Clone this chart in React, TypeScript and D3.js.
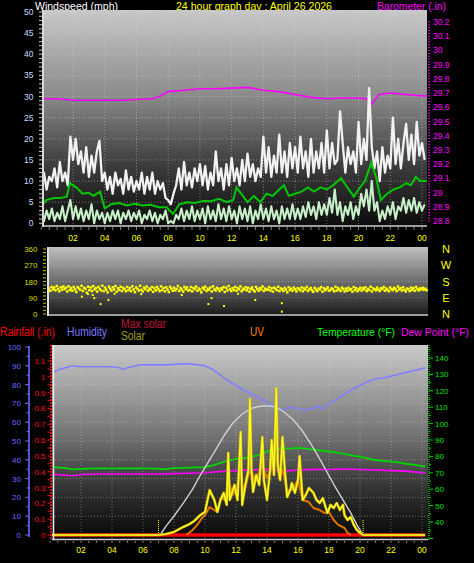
import React from 'react';
import * as d3 from 'd3';

const W = 474;
const H = 563;
const FONT = "'Liberation Sans', Arial, sans-serif";

// ---------- shared time axis ----------
const TICK_HOURS = [2, 4, 6, 8, 10, 12, 14, 16, 18, 20, 22, 24];
const TICK_LABELS = ['02', '04', '06', '08', '10', '12', '14', '16', '18', '20', '22', '00'];

// ---------- panel 1 : wind & barometer ----------
const WIND_TICKS = [0, 5, 10, 15, 20, 25, 30, 35, 40, 45, 50];
const BARO_TICKS = [28.8, 28.9, 29, 29.1, 29.2, 29.3, 29.4, 29.5, 29.6, 29.7, 29.8, 29.9, 30, 30.1, 30.2];

// gust (mph), 10-minute samples from 00:00 (one row per hour)
const GUST = [
  9, 12, 8, 11, 10, 13,
  8.5, 14.5, 10, 12, 9, 20.5,
  15, 20, 14, 17, 12, 18,
  11, 16, 12, 17, 19.5, 10,
  12, 8, 11, 7, 12, 9,
  10.5, 7, 12.5, 8, 11, 7.5,
  10, 8, 12, 7, 11, 8,
  12, 7, 10, 8, 9.5, 6,
  5.5, 4.5, 7, 9, 13, 8,
  14.5, 9, 12, 8.5, 13, 10,
  14, 9, 13.5, 8, 12, 9,
  17, 10, 13, 8, 14, 9,
  15.5, 10, 13, 9, 15, 10,
  16.5, 11, 14, 10, 13, 11,
  20.5, 12, 18, 11, 16, 12,
  21, 12, 17, 11, 19, 13,
  18, 12, 20.5, 13, 17, 11,
  20, 12, 17, 13, 19, 12,
  22, 13, 19, 14, 15, 26.5,
  19, 12, 18, 14, 17, 12,
  24, 14, 20, 15, 32, 18,
  13, 17, 10, 18, 12, 16,
  13, 25, 14, 20, 13, 19,
  23.5, 15, 21, 14, 24, 16,
  19, 15,
];
// wind speed (mph), 10-minute samples from 00:00
const WIND = [
  2, 0.5, 3, 1, 3.5, 0.5,
  2.5, 1, 4, 0.5, 3, 5.5,
  1, 4, 1, 3.5, 0.5, 3,
  1, 4.5, 0, 3, 1, 2.5,
  0, 2.5, 0.5, 3, 1, 3,
  0, 2.5, 1, 3, 0.5, 2.5,
  1, 3, 0, 2, 1, 3,
  0.5, 2.5, 0, 2, 1, 3,
  0, 0.5, 0, 2, 1, 3.5,
  0.5, 3, 1, 4, 0.5, 3,
  1, 3.5, 0, 4, 1, 3,
  0.5, 4.5, 1, 3.5, 0.5, 4,
  1, 3, 0, 4, 1, 3.5,
  0.5, 4, 0, 3, 1, 4.5,
  1, 3.5, 0.5, 4, 1, 3,
  0, 4, 1, 3.5, 1, 4.5,
  1, 3.5, 1, 4, 1.5, 5,
  2, 4, 1, 5, 2, 4.5,
  2, 6, 2.5, 8, 2, 5,
  0.5, 4, 2, 5, 1, 4,
  2, 7, 4, 8, 3, 10,
  3, 5, 0.5, 3, 1, 4,
  2, 5, 1, 4, 3, 6,
  2.5, 5.5, 3, 6, 2.5, 5,
  3, 4.5,
];
// average wind speed (mph)
const AVG_HOURS = [0, 0.3, 0.8, 1.2, 1.6, 1.8, 2.2, 2.6, 3.0, 3.3, 3.7, 4.0, 4.4, 4.9, 5.4, 5.9, 6.4, 6.9, 7.4, 7.9, 8.3, 8.7, 9.2, 9.7, 10.2, 10.7, 11.2, 11.7, 12.1, 12.3, 12.6, 13.0, 13.4, 13.8, 14.2, 14.6, 15.0, 15.3, 15.6, 16.0, 16.4, 16.8, 17.2, 17.6, 18.0, 18.4, 18.9, 19.2, 19.7, 20.0, 20.4, 20.8, 21.1, 21.4, 21.8, 22.2, 22.6, 23.0, 23.3, 23.6, 23.9, 24.3];
const AVG = [4, 5.5, 6, 6, 6.3, 9.5, 8.5, 7, 7.2, 6.5, 7.5, 3.5, 4.5, 4.8, 4.2, 4.6, 4.2, 4.4, 3.8, 3.8, 2.2, 4.5, 5, 4.8, 5.3, 5.2, 5.8, 5, 5.5, 8.5, 7, 5, 6.5, 5, 7, 6.5, 8, 9, 6.5, 7, 7.5, 8.5, 7.5, 8.5, 8, 9, 10.7, 9, 6.3, 8, 10, 14.3, 11, 5.5, 7, 8, 8.5, 9.5, 9, 11, 10, 10];
// barometer (inHg)
const BARO_HOURS = [0, 1, 2, 3, 4, 5, 6, 7, 7.5, 8, 9, 10, 11, 12, 13, 14, 15, 16, 17, 18, 19, 20, 20.5, 20.8, 21.3, 22, 23, 24, 24.3];
const BARO = [29.66, 29.66, 29.65, 29.65, 29.65, 29.65, 29.655, 29.66, 29.68, 29.71, 29.72, 29.73, 29.73, 29.735, 29.74, 29.72, 29.71, 29.69, 29.67, 29.66, 29.665, 29.665, 29.66, 29.62, 29.69, 29.7, 29.69, 29.68, 29.68];

// ---------- panel 2 : wind direction ----------
const DIR_TICKS = [0, 90, 180, 270, 360];
const COMPASS = ['N', 'E', 'S', 'W', 'N'];
// direction (deg), 5-minute samples from 00:00 (one row per hour)
const DIR = [
  142, 128, 150, 136, 147, 131, 155, 139, 126, 148, 135, 152,
  138, 146, 125, 153, 133, 144, 129, 150, 137, 122, 149, 141,
  134, 156, 128, 145, 139, 118, 151, 132, 147, 127, 154, 136,
  143, 124, 150, 138, 131, 157, 127, 146, 135, 120, 152, 140,
  129, 148, 136, 155, 124, 143, 133, 151, 128, 145, 138, 126,
  150, 132, 144, 127, 153, 136, 121, 147, 139, 130, 156, 134,
  125, 146, 137, 152, 129, 141, 134, 149, 123, 144, 131, 150,
  138, 127, 153, 133, 145, 126, 148, 136, 122, 151, 140, 129,
  146, 131, 139, 155, 128, 143, 135, 124, 150, 137, 147, 130,
  133, 149, 126, 144, 138, 152, 129, 141, 135, 120, 146, 137,
  151, 128, 140, 134, 147, 125, 153, 136, 130, 145, 139, 127,
  142, 135, 149, 122, 146, 131, 155, 138, 127, 143, 133, 150,
  129, 144, 137, 153, 126, 140, 135, 148, 131, 145, 124, 139,
  147, 133, 125, 150, 138, 129, 144, 136, 152, 128, 141, 134,
  136, 149, 130, 143, 124, 146, 139, 132, 151, 127, 142, 137,
  128, 145, 135, 120, 148, 133, 140, 129, 146, 137, 125, 143,
  139, 131, 147, 126, 142, 135, 150, 128, 138, 144, 132, 123,
  145, 134, 127, 141, 136, 149, 124, 143, 131, 138, 147, 129,
  133, 142, 137, 126, 150, 130, 144, 135, 128, 146, 139, 125,
  141, 129, 146, 134, 138, 124, 149, 132, 143, 127, 136, 145,
  130, 144, 136, 148, 127, 139, 133, 151, 125, 142, 137, 131,
  146, 135, 128, 143, 138, 150, 129, 141, 134, 126, 147, 137,
  132, 145, 139, 127, 152, 136, 143, 130, 148, 134, 125, 141,
  138, 127, 146, 133, 144, 129, 150, 137, 131, 142, 136, 145,
  134, 140, 132,
];
const DIR_OUT_HOURS = [2.1, 2.5, 2.8, 2.9, 3.3, 3.8, 4.2, 5.9, 8.5, 10.2, 10.4, 11.2, 13.2, 14.9, 14.9, 12.1];
const DIR_OUT = [96, 110, 105, 88, 55, 77, 112, 110, 105, 55, 88, 44, 77, 60, 13, 112];

// ---------- panel 3 ----------
const HUM_TICKS = [0, 10, 20, 30, 40, 50, 60, 70, 80, 90, 100];
const RAIN_TICKS = [0, 0.1, 0.2, 0.3, 0.4, 0.5, 0.6, 0.7, 0.8, 0.9, 1, 1.1];
const TEMP_TICKS = [40, 50, 60, 70, 80, 90, 100, 110, 120, 130, 140];

const HUM_HOURS = [0.2, 0.6, 1.0, 1.4, 2, 3, 4, 4.5, 4.7, 5.0, 5.3, 5.8, 6.5, 7.5, 8.5, 9, 9.5, 10, 10.5, 11, 11.5, 12, 12.5, 13, 13.5, 14, 14.5, 15, 15.3, 15.6, 16, 16.5, 17, 17.3, 17.6, 18, 18.5, 19, 19.5, 20, 20.5, 21, 21.5, 22, 22.5, 23, 23.5, 24, 24.2];
const HUM = [86.5, 88, 89, 90, 89.5, 89.5, 89.5, 89, 88, 89, 89.5, 90.5, 90.5, 90.5, 91, 91, 90.5, 90, 88, 85, 82, 79.5, 77, 75, 73, 70.5, 68, 66, 67.5, 68, 67, 66.5, 67.5, 68.5, 67, 70, 72, 75, 77.5, 79.5, 81.5, 83, 83.5, 84.5, 85.5, 86.5, 87.5, 88.5, 89];

const TEMP_HOURS = [0.2, 1, 1.5, 2, 3, 4, 5, 6, 7, 7.3, 7.7, 8, 9, 10, 10.5, 11, 11.5, 12, 12.5, 13, 13.5, 14, 14.5, 15, 15.5, 16, 16.5, 17, 17.5, 18, 18.5, 19, 19.5, 20, 20.5, 21, 21.5, 22, 22.5, 23, 23.5, 24, 24.2];
const TEMP = [73.4, 72.8, 72.1, 72.4, 72.7, 72.7, 72.7, 72.7, 72.6, 72.1, 72.5, 72.8, 73.1, 73.4, 74.5, 76, 77.5, 78.5, 79, 79.5, 81, 83, 84, 85, 84.8, 85.2, 84.8, 84.3, 83.5, 83, 82.3, 81.5, 80.5, 79.8, 78.8, 77.8, 77.3, 76.8, 76.3, 75.5, 74.8, 74.1, 74];

const DEW_HOURS = [0.2, 1, 1.5, 2, 3, 4, 5, 6, 7, 8, 9, 10, 11, 12, 13, 14, 14.5, 15, 15.5, 16, 17, 18, 19, 20, 21, 22, 23, 24, 24.2];
const DEW = [69.1, 68.5, 68.2, 69, 69.3, 69.3, 69.3, 69.3, 69.3, 69.5, 69.7, 70, 70.8, 71.3, 71.8, 72.1, 71.8, 70.8, 71.3, 71.7, 72.1, 72, 72.3, 72, 71.8, 71.3, 71, 70, 70];

const RAIN_HOURS = [0, 24.2];
const RAIN = [0, 0];

const SOLAR_HOURS = [0, 7.0, 7.5, 8.0, 8.6, 9.0, 9.3, 9.7, 10.0, 10.3, 10.6, 10.8, 11.0, 11.2, 11.4, 11.5, 11.6, 11.9, 12.1, 12.3, 12.4, 12.6, 12.8, 12.9, 13.0, 13.1, 13.3, 13.5, 13.7, 13.8, 14.0, 14.2, 14.3, 14.45, 14.6, 14.7, 14.85, 15.0, 15.15, 15.3, 15.5, 15.6, 15.8, 16.0, 16.1, 16.3, 16.5, 16.7, 17.0, 17.2, 17.4, 17.6, 17.9, 18.1, 18.3, 18.5, 18.7, 18.9, 19.0, 19.2, 19.4, 19.6, 19.8, 20.0, 20.2, 24.2];
const SOLAR = [0, 0, 6, 18, 47, 64, 82, 117, 135, 263, 205, 135, 205, 246, 176, 480, 205, 293, 205, 603, 176, 293, 380, 796, 380, 252, 351, 293, 573, 322, 205, 380, 556, 351, 860, 404, 322, 573, 380, 222, 263, 304, 246, 322, 462, 205, 234, 275, 246, 205, 187, 216, 129, 176, 158, 187, 146, 176, 117, 88, 105, 59, 29, 12, 0, 0];

const MAXSOLAR_HOURS = [7.1, 7.5, 8.0, 8.6, 9.2, 9.7, 10.3, 10.8, 11.3, 11.8, 12.4, 12.9, 13.3, 13.7, 14.2, 14.6, 15.1, 15.7, 16.2, 16.8, 17.3, 17.9, 18.4, 18.9, 19.4, 19.8, 20.2];
const MAXSOLAR = [0, 53, 111, 187, 269, 351, 439, 515, 591, 655, 708, 737, 749, 755, 755, 749, 720, 673, 620, 538, 462, 363, 281, 205, 129, 59, 0];

const UV_HOURS = [8.8, 9.2, 9.5, 9.8, 10.0, 10.3, 10.6, 10.8, 11.0, 11.3, 11.5, 11.8, 12.0, 12.3, 12.5, 12.8, 13.0, 13.2, 13.5, 13.7, 14.0, 14.3, 14.6, 14.8, 15.0, 15.3, 15.6, 16.0, 16.3, 16.7, 17.0, 17.4, 17.7, 18.0, 18.3, 18.6, 19.0, 19.2, 19.4];
const UV = [0, 0.29, 0.59, 0.99, 1.17, 1.64, 1.46, 1.35, 2.16, 2.05, 3.22, 2.34, 2.63, 3.8, 2.34, 3.51, 3.8, 3.22, 3.69, 4.1, 3.33, 3.92, 4.68, 3.33, 3.8, 2.63, 2.63, 3.22, 2.05, 1.93, 1.58, 1.46, 1.29, 1.35, 0.88, 0.59, 0.41, 0.12, 0];

const SUN_EVENTS = [7.0, 20.2];

// ---------- helpers ----------
const fmt = (v: number) => String(+v.toFixed(2));

function path(xs: number[], ys: number[], sx: (v: number) => number, sy: (v: number) => number) {
  return d3.line<number>().x((_, i) => sx(xs[i])).y((d) => sy(d))(ys) || '';
}

export default function App() {
  // panel 1 scales
  const P1 = { l: 43, r: 427, t: 10, b: 226 };
  const x1 = d3.scaleLinear().domain([0, 24]).range([41.3, 422]);
  const yWind = d3.scaleLinear().domain([0, 50]).range([223.3, 12]);
  const yBaro = d3.scaleLinear().domain([28.8, 30.2]).range([221, 22]);
  const gustHours = GUST.map((_, i) => i / 6);
  const windHours = WIND.map((_, i) => i / 6);

  // panel 2 scales
  const P2 = { l: 48, r: 428, t: 247, b: 316 };
  const x2 = d3.scaleLinear().domain([0, 24]).range([49, 424]);
  const yDir = d3.scaleLinear().domain([0, 360]).range([314, 249]);
  const dirHours = DIR.map((_, i) => i / 12);

  // panel 3 scales
  const P3 = { l: 52, r: 428, t: 345, b: 540 };
  const x3 = d3.scaleLinear().domain([0, 24]).range([50, 422]);
  const yHum = d3.scaleLinear().domain([0, 100]).range([535, 347]);
  const yRain = d3.scaleLinear().domain([0, 1.1]).range([535, 361]);
  const yTemp = d3.scaleLinear().domain([40, 140]).range([522, 358]);
  const ySolar = d3.scaleLinear().domain([0, 1100]).range([535, 347]);
  const yUV = d3.scaleLinear().domain([0, 11]).range([535, 347]);

  const windMinor = d3.range(0, 51, 1);
  const baroMinor = d3.range(28.8, 30.21, 0.02);
  const dirMinor = d3.range(0, 361, 20);
  const humMinor = d3.range(0, 101, 5);
  const rainMinor = d3.range(0, 1.15, 0.05);
  const tempMinor = d3.range(30, 146, 5);
  const halfHours = d3.range(0, 24.01, 0.5);

  const txt = { fontFamily: FONT } as const;

  return (
    <svg width={W} height={H} style={{ position: 'absolute', left: 0, top: 0, background: '#000' }}>
      <defs>
        <linearGradient id="g1" x1="0" y1="0" x2="0" y2="1">
          <stop offset="0" stopColor="#c8c8c8" />
          <stop offset="0.4" stopColor="#8a8a8a" />
          <stop offset="0.7" stopColor="#404040" />
          <stop offset="1" stopColor="#0c0c0c" />
        </linearGradient>
        <linearGradient id="g2" x1="0" y1="0" x2="0" y2="1">
          <stop offset="0" stopColor="#c0c0c0" />
          <stop offset="0.5" stopColor="#6c6c6c" />
          <stop offset="1" stopColor="#181818" />
        </linearGradient>
        <linearGradient id="g3" x1="0" y1="0" x2="0" y2="1">
          <stop offset="0" stopColor="#cacaca" />
          <stop offset="0.45" stopColor="#767676" />
          <stop offset="0.75" stopColor="#303030" />
          <stop offset="1" stopColor="#060606" />
        </linearGradient>
        <clipPath id="c1"><rect x={P1.l} y={P1.t} width={P1.r - P1.l} height={P1.b - P1.t} /></clipPath>
        <clipPath id="c2"><rect x={P2.l} y={P2.t} width={P2.r - P2.l} height={P2.b - P2.t} /></clipPath>
        <clipPath id="c3"><rect x={P3.l} y={P3.t} width={P3.r - P3.l} height={P3.b - P3.t} /></clipPath>
      </defs>
      <rect x={0} y={0} width={W} height={H} fill="#000" />

      {/* titles */}
      <text x={35} y={9.5} fill="#ffffff" fontSize={11} textLength={83} lengthAdjust="spacingAndGlyphs" style={txt}>Windspeed (mph)</text>
      <text x={176} y={9.5} fill="#ffff00" fontSize={11} textLength={156} lengthAdjust="spacingAndGlyphs" style={txt}>24 hour graph day : April 26 2026</text>
      <text x={377} y={9.5} fill="#ff00ff" fontSize={11} textLength={69} lengthAdjust="spacingAndGlyphs" style={txt}>Barometer (.in)</text>

      {/* ===== panel 1 ===== */}
      <rect x={P1.l} y={P1.t} width={P1.r - P1.l} height={P1.b - P1.t} fill="url(#g1)" />
      <g clipPath="url(#c1)" stroke="#d8d8d8" strokeOpacity={0.45} strokeDasharray="1 2">
        {WIND_TICKS.slice(1).map((v) => (
          <line key={'h' + v} x1={P1.l} x2={P1.r} y1={yWind(v)} y2={yWind(v)} />
        ))}
        {TICK_HOURS.map((h) => (
          <line key={'v' + h} x1={x1(h)} x2={x1(h)} y1={P1.t} y2={P1.b} />
        ))}
      </g>
      <g clipPath="url(#c1)" fill="none">
        <path d={path(BARO_HOURS, BARO, x1, yBaro)} stroke="#ff00ff" strokeWidth={1.6} />
        <path d={path(gustHours, GUST, x1, yWind)} stroke="#f2f2f2" strokeWidth={2.3} strokeLinejoin="round" />
        <path d={path(windHours, WIND, x1, yWind)} stroke="#c8f0c8" strokeWidth={2.1} strokeLinejoin="round" />
        <path d={path(AVG_HOURS, AVG, x1, yWind)} stroke="#00c800" strokeWidth={2} />
      </g>
      <line x1={P1.l} x2={P1.l} y1={P1.t} y2={P1.b + 1} stroke="#d8d8d8" strokeWidth={2} />
      <line x1={P1.l} x2={P1.r} y1={P1.b} y2={P1.b} stroke="#d0d0d0" strokeWidth={1.5} />
      {windMinor.map((v) => (
        <line key={'wm' + v} x1={39} x2={42} y1={yWind(v)} y2={yWind(v)} stroke="#c8c8c8" strokeWidth={1} />
      ))}
      {WIND_TICKS.map((v) => (
        <text key={'wl' + v} x={33.5} y={yWind(v) + 3} fill="#c8dcff" fontSize={8.5} textAnchor="end" style={txt}>{v}</text>
      ))}
      {baroMinor.map((v, i) => (
        <line key={'bm' + i} x1={428} x2={430} y1={yBaro(v)} y2={yBaro(v)} stroke="#ff00ff" strokeWidth={1} />
      ))}
      {BARO_TICKS.map((v) => (
        <text key={'bl' + v} x={433} y={yBaro(v) + 3} fill="#ff00ff" fontSize={8.5} style={txt}>{fmt(v)}</text>
      ))}
      {halfHours.map((h) => (
        <line key={'xt1' + h} x1={x1(h)} x2={x1(h)} y1={P1.b + 1} y2={P1.b + 4} stroke="#808080" strokeWidth={1} />
      ))}
      {TICK_HOURS.map((h, i) => (
        <text key={'xl1' + h} x={x1(h)} y={240.5} fill="#ffff00" fontSize={8.5} textAnchor="middle" style={txt}>{TICK_LABELS[i]}</text>
      ))}

      {/* ===== panel 2 ===== */}
      <rect x={P2.l} y={P2.t} width={P2.r - P2.l} height={P2.b - P2.t} fill="url(#g2)" />
      <g clipPath="url(#c2)" stroke="#d8d8d8" strokeOpacity={0.35} strokeDasharray="1 2">
        {DIR_TICKS.slice(1, 4).map((v) => (
          <line key={'dh' + v} x1={P2.l} x2={P2.r} y1={yDir(v)} y2={yDir(v)} />
        ))}
      </g>
      <g clipPath="url(#c2)" fill="#ffff00">
        {DIR.map((d, i) => (
          <rect key={'d' + i} x={x2(dirHours[i]) - 1.25} y={yDir(d) - 1.25} width={2.5} height={2.5} />
        ))}
        {DIR_OUT.map((d, i) => (
          <rect key={'do' + i} x={x2(DIR_OUT_HOURS[i]) - 1} y={yDir(d) - 1} width={2} height={2} />
        ))}
      </g>
      <line x1={P2.l} x2={P2.l} y1={P2.t} y2={P2.b} stroke="#e0e0e0" strokeWidth={2} />
      <line x1={P2.l} x2={P2.r} y1={P2.b - 1} y2={P2.b - 1} stroke="#c8c8c8" strokeWidth={1.5} />
      {dirMinor.map((v) => (
        <line key={'dm' + v} x1={43} x2={46} y1={yDir(v)} y2={yDir(v)} stroke="#c8c800" strokeWidth={1} />
      ))}
      {DIR_TICKS.map((v) => (
        <text key={'dl' + v} x={37.5} y={yDir(v) + 3} fill="#d8d800" fontSize={8} textAnchor="end" style={txt}>{v}</text>
      ))}
      {DIR_TICKS.map((v, i) => (
        <text key={'cp' + v} x={446} y={yDir(v) + 4} fill="#ffff00" fontSize={11} textAnchor="middle" style={txt}>{COMPASS[i]}</text>
      ))}

      {/* ===== legend ===== */}
      <text x={0} y={336} fill="#ff0000" fontSize={12.5} textLength={55} lengthAdjust="spacingAndGlyphs" style={txt}>Rainfall (.in)</text>
      <text x={67} y={336} fill="#7878ff" fontSize={12.5} textLength={40} lengthAdjust="spacingAndGlyphs" style={txt}>Humidity</text>
      <text x={121} y={327.5} fill="#c0103c" fontSize={12} textLength={45} lengthAdjust="spacingAndGlyphs" style={txt}>Max solar</text>
      <text x={121} y={340} fill="#a0a020" fontSize={12} textLength={24} lengthAdjust="spacingAndGlyphs" style={txt}>Solar</text>
      <text x={250} y={336} fill="#ff8000" fontSize={12.5} textLength={14} lengthAdjust="spacingAndGlyphs" style={txt}>UV</text>
      <text x={317} y={336} fill="#00ff00" fontSize={11} textLength={78} lengthAdjust="spacingAndGlyphs" style={txt}>Temperature (°F)</text>
      <text x={401} y={336} fill="#ff00ff" fontSize={11} textLength={68} lengthAdjust="spacingAndGlyphs" style={txt}>Dew Point (°F)</text>

      {/* ===== panel 3 ===== */}
      <rect x={P3.l} y={P3.t} width={P3.r - P3.l} height={P3.b - P3.t} fill="url(#g3)" />
      <g clipPath="url(#c3)" stroke="#d8d8d8" strokeOpacity={0.4} strokeDasharray="1 2">
        {HUM_TICKS.slice(1, 10).map((v) => (
          <line key={'hh' + v} x1={P3.l} x2={P3.r} y1={yHum(v)} y2={yHum(v)} />
        ))}
        {TICK_HOURS.map((h) => (
          <line key={'hv' + h} x1={x3(h)} x2={x3(h)} y1={P3.t} y2={P3.b} />
        ))}
      </g>
      <g clipPath="url(#c3)" fill="none">
        <path d={path(HUM_HOURS, HUM, x3, yHum)} stroke="#8080ff" strokeWidth={1.6} />
        <path d={path(TEMP_HOURS, TEMP, x3, yTemp)} stroke="#00d800" strokeWidth={1.8} />
        <path d={path(DEW_HOURS, DEW, x3, yTemp)} stroke="#ff00ff" strokeWidth={1.6} />
        <path d={path(MAXSOLAR_HOURS, MAXSOLAR, x3, ySolar)} stroke="#d0d0d0" strokeWidth={1.4} />
        {SUN_EVENTS.map((h) => (
          <line key={'sun' + h} x1={x3(h)} x2={x3(h)} y1={520} y2={535} stroke="#ffff00" strokeWidth={1} strokeDasharray="1 1" />
        ))}
        <path d={path(RAIN_HOURS, RAIN, x3, yRain)} stroke="#ff0000" strokeWidth={3.5} />
        <path d={path(UV_HOURS, UV, x3, yUV)} stroke="#e07000" strokeWidth={2} strokeLinejoin="round" />
        <path d={path(SOLAR_HOURS, SOLAR, x3, ySolar)} stroke="#d8c000" strokeWidth={2.6} strokeLinejoin="round" />
        <path d={path(SOLAR_HOURS, SOLAR, x3, ySolar)} stroke="#ffff30" strokeWidth={1.2} strokeLinejoin="round" />
      </g>
      <line x1={P3.l} x2={P3.r} y1={P3.b - 0.5} y2={P3.b - 0.5} stroke="#c8c8c8" strokeWidth={1.5} />
      <line x1={53.5} x2={53.5} y1={P3.t} y2={P3.b} stroke="#e8e8e8" strokeWidth={1.5} />
      {halfHours.map((h) => (
        <line key={'xt3' + h} x1={x3(h)} x2={x3(h)} y1={P3.b + 1} y2={P3.b + 3} stroke="#808080" strokeWidth={1} />
      ))}
      {/* humidity axis */}
      <line x1={29} x2={29} y1={346} y2={537} stroke="#7070ff" strokeWidth={1.5} />
      {humMinor.map((v) => (
        <line key={'hm' + v} x1={v % 10 === 0 ? 25 : 26.5} x2={29} y1={yHum(v)} y2={yHum(v)} stroke="#7070ff" strokeWidth={1} />
      ))}
      {HUM_TICKS.map((v) => (
        <text key={'hl' + v} x={21} y={yHum(v) + 3} fill="#6a6aff" fontSize={8} textAnchor="end" style={txt}>{v}</text>
      ))}
      {/* rainfall axis */}
      <line x1={51} x2={51} y1={P3.t} y2={P3.b} stroke="#ff2020" strokeWidth={1.5} strokeDasharray="2 1" />
      {rainMinor.map((v, i) => (
        <line key={'rm' + i} x1={47.5} x2={50} y1={yRain(v)} y2={yRain(v)} stroke="#ff0000" strokeWidth={1} />
      ))}
      {RAIN_TICKS.map((v) => (
        <text key={'rl' + v} x={45.5} y={yRain(v) + 3} fill="#ff1010" fontSize={8} textAnchor="end" style={txt}>{fmt(v)}</text>
      ))}
      {/* temperature axis */}
      <line x1={429} x2={429} y1={P3.t} y2={P3.b} stroke="#00c000" strokeWidth={1.5} strokeDasharray="1 1" />
      {tempMinor.map((v) => (
        <line key={'tm' + v} x1={429} x2={v % 10 === 0 ? 433 : 431} y1={yTemp(v)} y2={yTemp(v)} stroke="#00d000" strokeWidth={1} />
      ))}
      {TEMP_TICKS.map((v) => (
        <text key={'tl' + v} x={435} y={yTemp(v) + 3} fill="#00e000" fontSize={8} style={txt}>{v}</text>
      ))}
      {TICK_HOURS.map((h, i) => (
        <text key={'xl3' + h} x={x3(h)} y={553} fill="#ffff00" fontSize={8.5} textAnchor="middle" style={txt}>{TICK_LABELS[i]}</text>
      ))}
    </svg>
  );
}
